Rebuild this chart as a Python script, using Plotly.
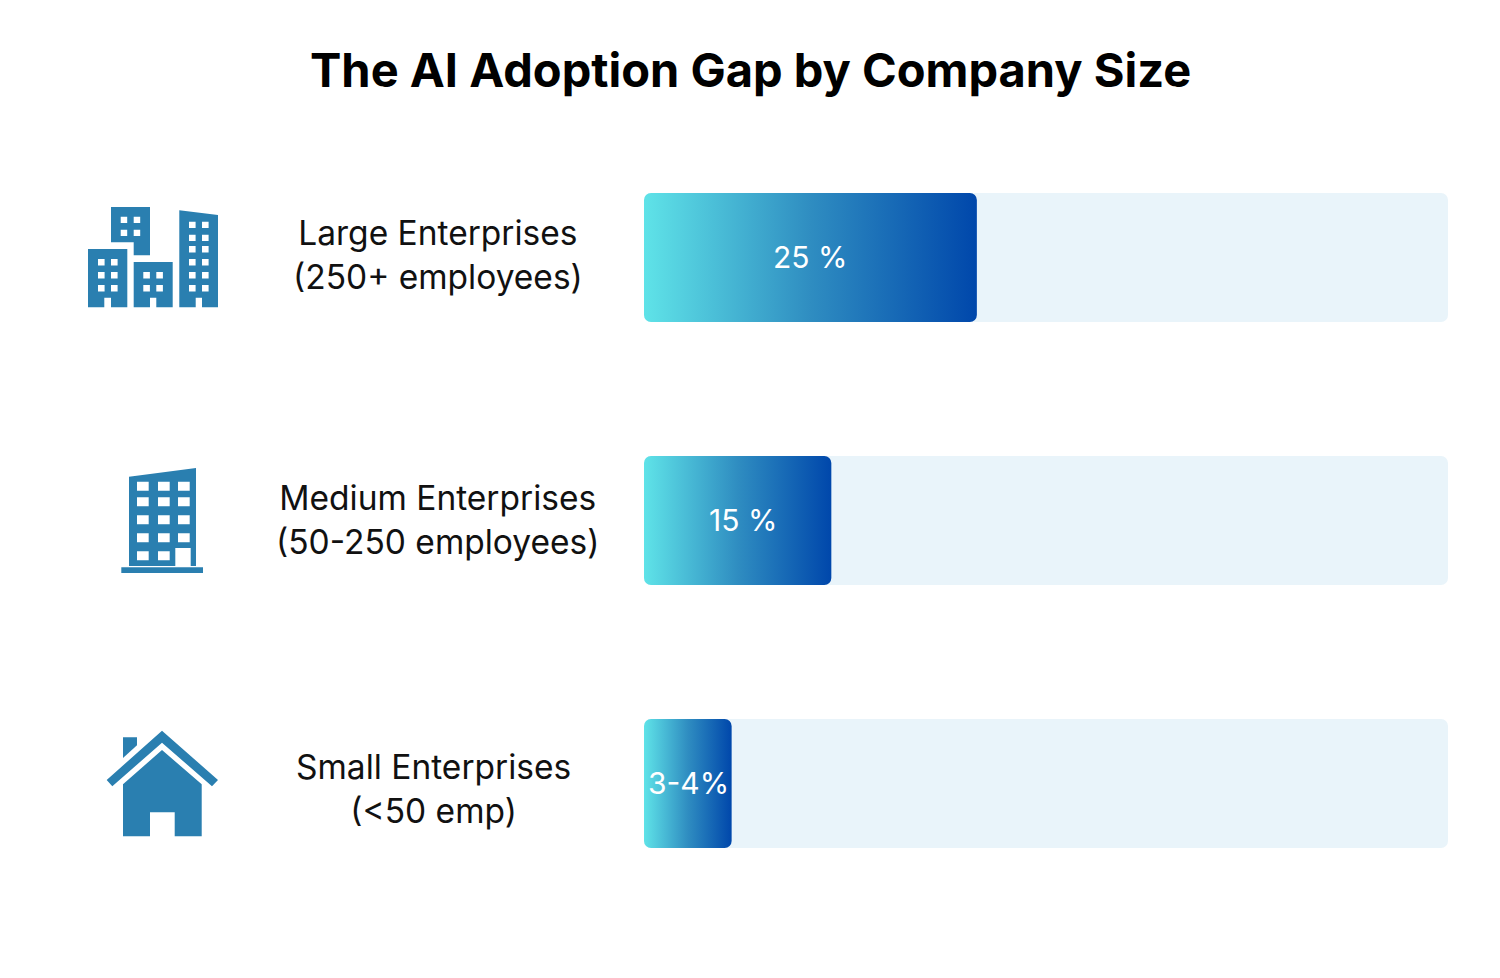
import plotly.graph_objects as go

W, H = 1500, 978
FONT = "Inter"
ICON = "#2A7FB0"

title = "The AI Adoption Gap by Company Size"
categories = ["Large Enterprises<br>(250+ employees)",
              "Medium Enterprises<br>(50-250 employees)",
              "Small Enterprises<br>(<50 emp)"]
track_values = [100, 100, 100]
bar_lengths = [41.4, 23.3, 10.9]
bar_labels = ["25 %", "15 %", "3-4%"]


def px(x, y):
    return f"{x / W:.5f},{1 - y / H:.5f}"


def poly(points):
    return "M" + " L".join(px(x, y) for x, y in points) + " Z"


def hole(x0, y0, w, h):
    return poly([(x0, y0), (x0, y0 + h), (x0 + w, y0 + h), (x0 + w, y0)])


def grid(xs, ys, w, h):
    return " ".join(hole(x, y, w, h) for y in ys for x in xs)


icons = [
    # large: left block
    poly([(88, 249), (127.3, 249), (127.3, 307.3), (111, 307.3), (111, 297.7), (104.3, 297.7), (104.3, 307.3), (88, 307.3)])
    + " " + grid([98, 111], [259, 272, 285], 6.6, 6.4),
    # large: top block
    poly([(111, 207), (150, 207), (150, 255.3), (133.7, 255.3), (133.7, 242.3), (111, 242.3)])
    + " " + grid([120.7, 133.7], [216.7, 229.7], 6.5, 6.4),
    # large: middle block
    poly([(133.7, 262), (172.7, 262), (172.7, 307.3), (156.3, 307.3), (156.3, 297.7), (150, 297.7), (150, 307.3), (133.7, 307.3)])
    + " " + grid([143.3, 156.3], [272, 285], 6.6, 6.4),
    # large: right tower
    poly([(179.3, 210.3), (218, 215), (218, 307.3), (202, 307.3), (202, 297.7), (195.7, 297.7), (195.7, 307.3), (179.3, 307.3)])
    + " " + grid([189, 202], [221.7, 234.7, 246, 259, 272, 285], 6.6, 6.4),
    # medium: tower
    poly([(129, 476.7), (196, 468), (196, 566), (190.7, 566), (190.7, 548), (175.3, 548), (175.3, 566), (129, 566)])
    + " " + grid([137, 158, 178], [481.7, 497.3, 515.3, 533.3], 11.7, 9)
    + " " + grid([137, 158], [551.3], 11.7, 9),
    # medium: base
    poly([(121.3, 567.3), (203, 567.3), (203, 573), (121.3, 573)]),
    # small: roof
    poly([(162, 730.7), (218, 780), (212, 786.3), (162, 742.7), (112.3, 786.3), (106.7, 780)]),
    # small: body
    poly([(162, 750), (201.7, 784.3), (201.7, 836.3), (174.7, 836.3), (174.7, 812.3), (150, 812.3), (150, 836.3), (123, 836.3), (123, 784.3)]),
    # small: chimney
    poly([(123, 737.3), (137, 737.3), (137, 745.3), (123, 758)]),
]

fig = go.Figure()
fig.add_bar(y=categories, x=track_values, orientation="h", width=0.4905,
            marker=dict(color="#E9F4FA", line_width=0), hoverinfo="skip")
fig.add_bar(y=categories, x=bar_lengths, orientation="h", width=0.4905,
            marker=dict(color="#2A80B9", line_width=0), hoverinfo="skip")

annotations = [dict(text=f"<b>{title}</b>", xref="paper", yref="paper", x=0.5, y=1 - 70 / H,
                    xanchor="center", yanchor="middle", showarrow=False,
                    font=dict(family=FONT, size=47, color="#000000"))]
label_center = [437.5, 437.5, 433.5]
label_shift = [2.5, 0.5, -5.5]
value_shift = [0, 5.5, 1]
for c, cx, ls, length, lab, sh in zip(categories, label_center, label_shift, bar_lengths, bar_labels, value_shift):
    annotations.append(dict(text=c, xref="paper", yref="y", x=cx / W, y=c, yshift=ls, xanchor="center",
                            yanchor="middle", showarrow=False, align="center",
                            font=dict(family=FONT, size=33.5, color="#111111")))
    annotations.append(dict(text=lab, xref="x", yref="y", x=length / 2, y=c, xshift=sh, yshift=1,
                            xanchor="center", yanchor="middle", showarrow=False,
                            font=dict(family=FONT, size=30, color="#FFFFFF")))

fig.update_layout(
    width=W, height=H, margin=dict(l=0, r=0, t=0, b=0),
    paper_bgcolor="white", plot_bgcolor="white",
    barmode="overlay", showlegend=False,
    xaxis=dict(domain=[644 / W, 1448 / W], range=[0, 100], visible=False, fixedrange=True),
    yaxis=dict(domain=[1 - 915 / H, 1 - 126 / H], categoryorder="array", categoryarray=categories,
               autorange="reversed", visible=False, fixedrange=True),
    annotations=annotations,
    shapes=[dict(type="path", path=p, xref="paper", yref="paper", fillcolor=ICON, line_width=0, layer="above")
            for p in icons],
    font=dict(family=FONT),
)

post = """
document.body.style.margin = '0';
document.documentElement.style.overflow = 'hidden';
var gd = document.getElementById('{plot_id}');
var R = 7;
function roundAll(p) {
  var b = p.getBBox();
  if (!b.width) return;
  var x0 = b.x, y0 = b.y, x1 = b.x + b.width, y1 = b.y + b.height;
  p.setAttribute('d', 'M' + (x0 + R) + ',' + y0 + 'H' + (x1 - R) + 'A' + R + ',' + R + ' 0 0 1 ' + x1 + ',' + (y0 + R) +
    'V' + (y1 - R) + 'A' + R + ',' + R + ' 0 0 1 ' + (x1 - R) + ',' + y1 + 'H' + (x0 + R) +
    'A' + R + ',' + R + ' 0 0 1 ' + x0 + ',' + (y1 - R) + 'V' + (y0 + R) + 'A' + R + ',' + R + ' 0 0 1 ' + (x0 + R) + ',' + y0 + 'Z');
}
function paint() {
  var svg = gd.querySelector('svg.main-svg');
  if (!svg) return;
  var ns = 'http://www.w3.org/2000/svg';
  if (!document.getElementById('barGrad')) {
    var defs = document.createElementNS(ns, 'defs');
    var g = document.createElementNS(ns, 'linearGradient');
    g.setAttribute('id', 'barGrad');
    [['0%', '#5FE3E8'], ['50%', '#2F8DC1'], ['100%', '#0047AB']].forEach(function (s) {
      var st = document.createElementNS(ns, 'stop');
      st.setAttribute('offset', s[0]);
      st.setAttribute('stop-color', s[1]);
      g.appendChild(st);
    });
    defs.appendChild(g);
    svg.insertBefore(defs, svg.firstChild);
  }
  var traces = gd.querySelectorAll('.barlayer .trace');
  traces.forEach(function (t) { t.querySelectorAll('path').forEach(roundAll); });
  traces[1].querySelectorAll('path').forEach(function (p) {
    p.style.fill = 'url(#barGrad)';
  });
}
paint();
gd.on('plotly_afterplot', paint);
"""

fig.write_html("out.html", post_script=post, config={"displayModeBar": False})
